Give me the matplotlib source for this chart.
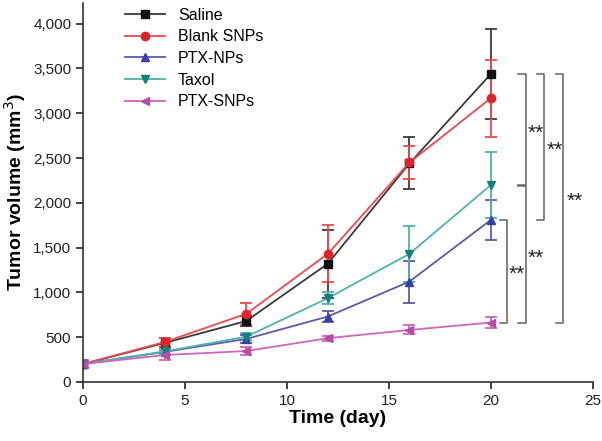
import matplotlib.pyplot as plt
from matplotlib.ticker import FuncFormatter

plt.rcParams['font.family'] = ['Liberation Sans', 'DejaVu Sans']

days = [0, 4, 8, 12, 16, 20]

saline = [200, 435, 680, 1320, 2440, 3440]
saline_err = [50, 50, 60, 380, 290, 500]
blank = [200, 445, 760, 1430, 2450, 3170]
blank_err = [50, 50, 120, 320, 180, 430]
ptx_nps = [200, 335, 480, 730, 1120, 1810]
ptx_nps_err = [50, 30, 40, 60, 235, 225]
taxol = [200, 340, 505, 935, 1430, 2200]
taxol_err = [50, 30, 40, 65, 310, 370]
ptx_snps = [200, 300, 345, 488, 580, 663]
ptx_snps_err = [50, 55, 40, 30, 50, 60]

series = [
    ('Saline', saline, saline_err, '#3a3a3a', '#111111', 's'),
    ('Blank SNPs', blank, blank_err, '#ec4a50', '#e0222a', 'o'),
    ('PTX-NPs', ptx_nps, ptx_nps_err, '#5a5aae', '#3540a8', '^'),
    ('Taxol', taxol, taxol_err, '#4fb3ad', '#15807a', 'v'),
    ('PTX-SNPs', ptx_snps, ptx_snps_err, '#cc66bb', '#b84aa8', '<'),
]

# significance brackets: (x_left, x_right, y_top, y_bottom, text_x)
brackets = [
    (21.3, 21.7, 3440, 2200, 22.2),
    (22.25, 22.6, 3440, 1810, 23.15),
    (23.2, 23.55, 3440, 663, 24.1),
    (20.45, 20.8, 1810, 663, 21.25),
    (21.3, 21.7, 2185, 663, 22.2),
]

fig = plt.figure(figsize=(6.02, 4.41), dpi=100)
ax = fig.add_axes([0.138, 0.134, 0.847, 0.859])

handles = []
for name, y, err, lc, mc, mk in series:
    c = ax.errorbar(days, y, yerr=err, color=lc, marker=mk, markersize=6,
                    markerfacecolor=mc, markeredgecolor=mc, linewidth=1.3,
                    elinewidth=1.3, capsize=4, capthick=1.3, label=name)
    handles.append(c[0])

for x0, x1, yt, yb, tx in brackets:
    ax.plot([x0, x1, x1, x0], [yt, yt, yb, yb], color='#6e6e6e', lw=1.2,
            clip_on=False)
    ax.text(tx, (yt + yb) / 2 - 40, '**', ha='center', va='center', fontsize=15,
            color='#222222')

ax.set_xlim(0, 25)
ax.set_ylim(0, 4230)
ax.set_xticks([0, 5, 10, 15, 20, 25])
ax.set_yticks(range(0, 4001, 500))
ax.yaxis.set_major_formatter(FuncFormatter(lambda v, p: f'{int(v):,}'))
ax.tick_params(labelsize=11, direction='out', length=5, width=1.2, colors='#222222')
for s in ['top', 'right']:
    ax.spines[s].set_visible(False)
for s in ['left', 'bottom']:
    ax.spines[s].set_linewidth(1.2)
    ax.spines[s].set_color('#333333')

ax.set_xlabel('Time (day)', fontsize=14, fontweight='bold', labelpad=2)
ax.set_ylabel('Tumor volume (mm$^3$)', fontsize=14, fontweight='bold', labelpad=4)

ax.legend(handles, [s[0] for s in series], loc='upper left',
          bbox_to_anchor=(0.07, 1.005), frameon=False, fontsize=11.5,
          handlelength=2.5, labelspacing=0.42, borderaxespad=0)

fig.savefig('out.png', dpi=100)
